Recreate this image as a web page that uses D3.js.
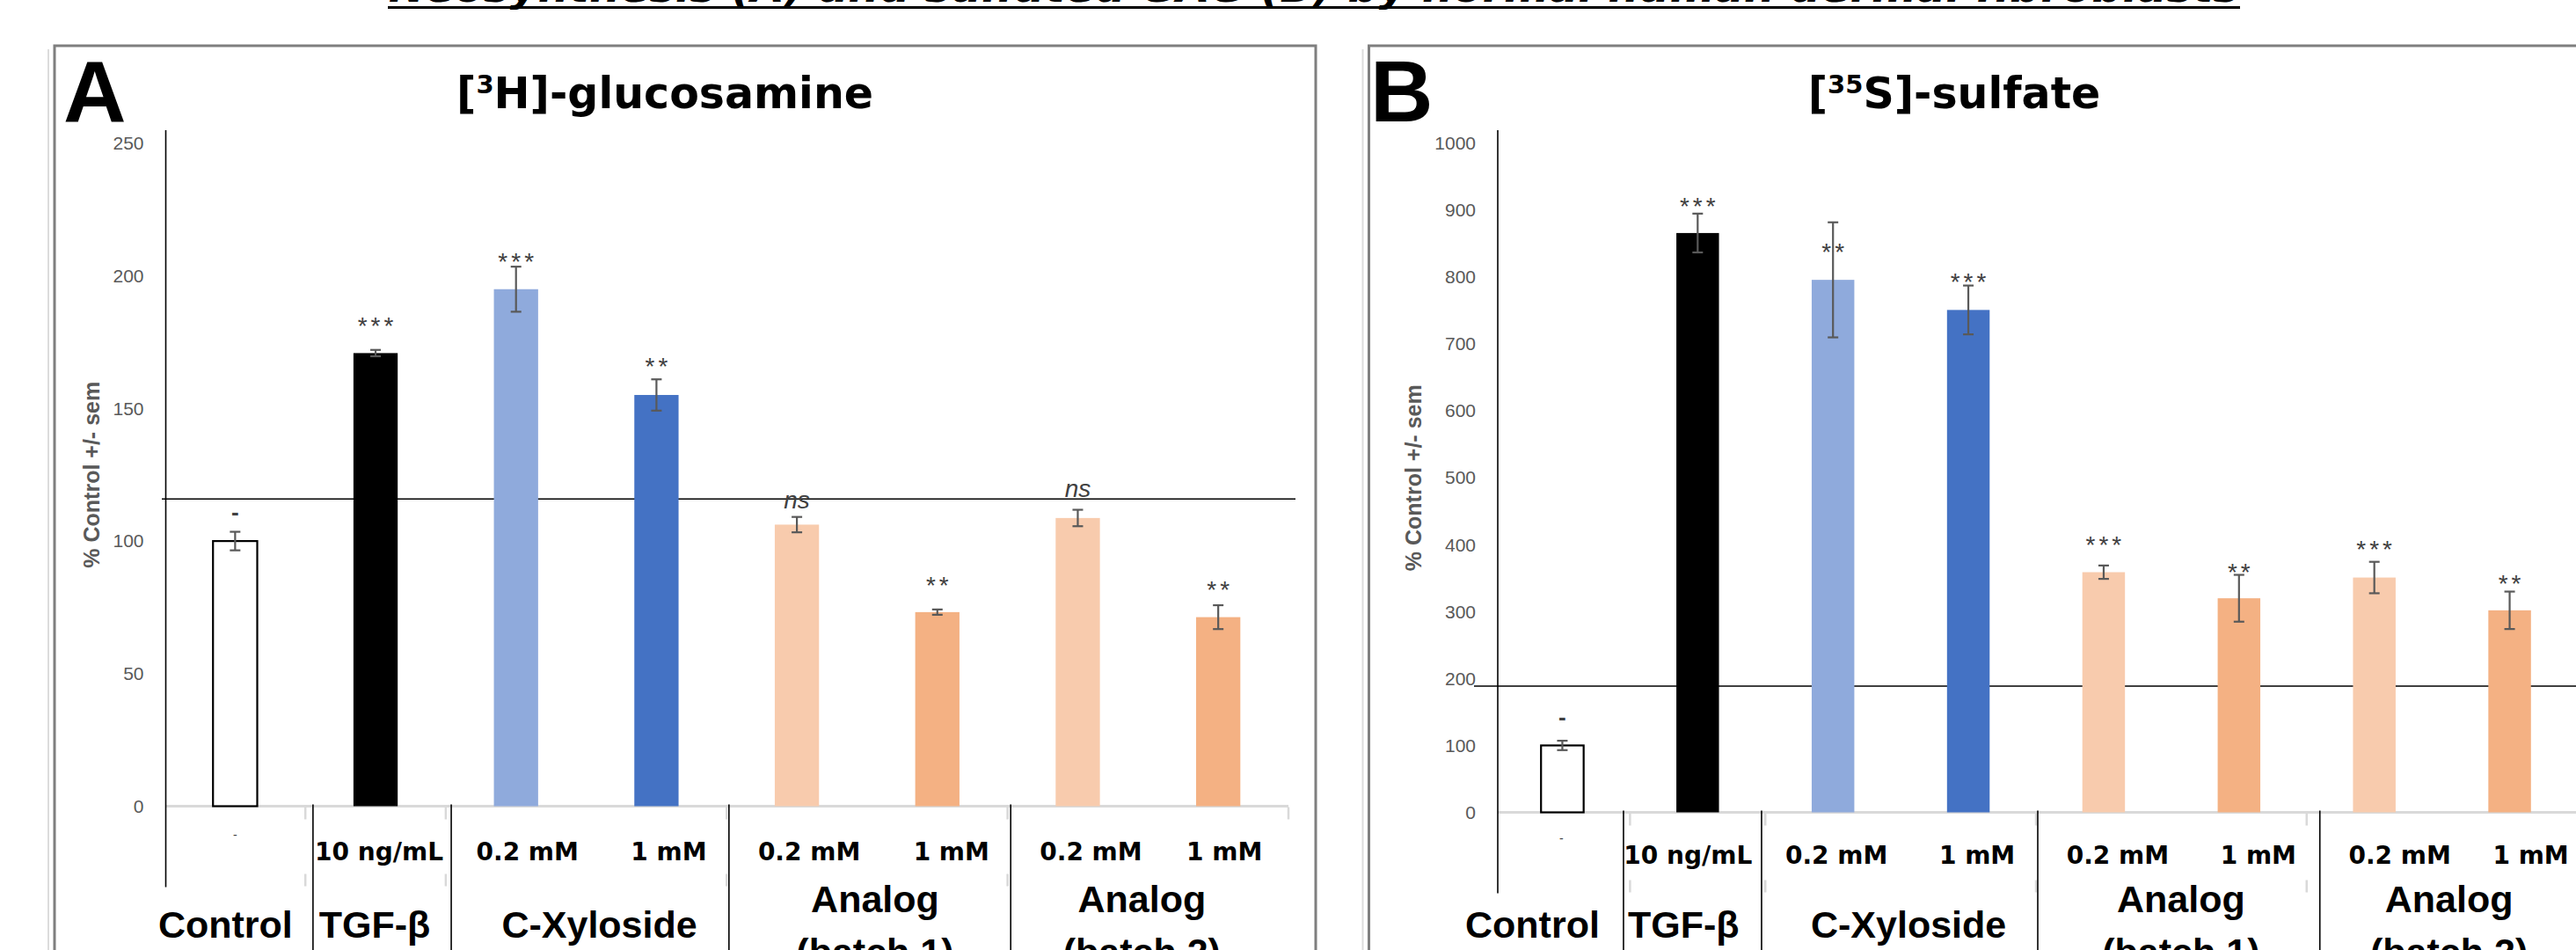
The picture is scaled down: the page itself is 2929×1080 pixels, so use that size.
<!DOCTYPE html>
<html>
<head>
<meta charset="utf-8">
<script src="https://cdn.jsdelivr.net/npm/d3@7"></script>
<style>
  html, body { margin: 0; padding: 0; background: #fff; }
  svg { display: block; }
</style>
</head>
<body>
<svg id="chart" width="2929" height="1080"></svg>
<script>
const pageTitle = "Neosynthesis (A) and sulfated GAG (B) by normal human dermal fibroblasts";

// categories
const groups = ["Control", "TGF-β", "C-Xyloside", "Analog|(batch 1)", "Analog|(batch 2)"];
const groupSize = [1, 1, 2, 2, 2];
const doses = ["-", "10 ng/mL", "0.2 mM", "1 mM", "0.2 mM", "1 mM", "0.2 mM", "1 mM"];

// panel A: [3H]-glucosamine
const glucosamineMean = [100, 170.9, 195, 155.1, 106.2, 73.2, 108.7, 71.3];
const glucosamineSem = [3.5, 1.2, 8.5, 5.9, 2.9, 1, 3.1, 4.5];
const glucosamineSig = ["-", "***", "***", "**", "ns", "**", "ns", "**"];
const glucosamineSigLevel = [110.4, 183.2, 207.5, 168.2, 114.5, 85.5, 119, 83.8];
const glucosamineTicks = [0, 50, 100, 150, 200, 250];
const glucosamineRef = 115.9;

// panel B: [35S]-sulfate
const sulfateMean = [100, 866, 796, 751, 359, 320, 351, 302];
const sulfateSem = [7, 29, 86, 36.5, 10, 35, 23.5, 28];
const sulfateSig = ["-", "***", "**", "***", "***", "**", "***", "**"];
const sulfateSigLevel = [140, 914.8, 845.8, 802.1, 408.3, 368, 402.2, 350.7];
const sulfateTicks = [0, 100, 200, 300, 400, 500, 600, 700, 800, 900, 1000];
const sulfateRef = 188.7;

const barFill = ["#ffffff", "#000000", "#8faadc", "#4472c4", "#f8cbad", "#f4b183", "#f8cbad", "#f4b183"];

const svg = d3.select("#chart");
const sans = "'Liberation Sans', Arial, sans-serif";
const wide = "'DejaVu Sans', sans-serif";

// page title, mostly cut off above the picture
svg.append("text")
  .attr("x", 1494).attr("y", 2)
  .attr("text-anchor", "middle")
  .attr("font-family", wide).attr("font-weight", 700).attr("font-style", "italic")
  .attr("font-size", 44)
  .attr("textLength", 2104).attr("lengthAdjust", "spacingAndGlyphs")
  .text(pageTitle);
svg.append("line")
  .attr("x1", 441).attr("x2", 2547).attr("y1", 8.5).attr("y2", 8.5)
  .attr("stroke", "#000").attr("stroke-width", 3);

const panels = [
  {
    letter: "A", iso: "3", element: "H", suffix: "-glucosamine",
    mean: glucosamineMean, sem: glucosamineSem, sig: glucosamineSig, sigLevel: glucosamineSigLevel,
    ticks: glucosamineTicks, ref: glucosamineRef, yMax: 250,
    frameX: 62, frameW: 1434, axisX: 188.5, band: [187.5, 1465], yRange: [916.5, 163],
    titleX: 756, letterX: 72, yTitleX: 113, refX: [184, 1473], doseY: 978,
    doseShift: [0, 4, 13, 14, 14, 16, 15, 7],
    groupShift: [-11, -1, 15, 9, -7],
    dividerShift: [8.7, 6.2, 2.6, 3.6]
  },
  {
    letter: "B", iso: "35", element: "S", suffix: "-sulfate",
    mean: sulfateMean, sem: sulfateSem, sig: sulfateSig, sigLevel: sulfateSigLevel,
    ticks: sulfateTicks, ref: sulfateRef, yMax: 1000,
    frameX: 1556.5, frameW: 1500, axisX: 1703, band: [1699.5, 2930.5], yRange: [923.5, 163],
    titleX: 2222, letterX: 1558, yTitleX: 1616, refX: [1676, 2929], doseY: 982,
    doseShift: [-1, -11, 4, 10, 16, 22, 29, 24],
    groupShift: [-34, -16, 9, 11, 8],
    dividerShift: [-7.4, -4.3, 2, 15]
  }
];

panels.forEach(drawPanel);

function drawPanel(p) {
  const keys = d3.range(doses.length);
  const slot = d3.scaleBand().domain(keys).range(p.band);
  const x = d3.scaleBand().domain(keys).range(p.band).paddingInner(0.685).paddingOuter(0.3425);
  const y = d3.scaleLinear().domain([0, p.yMax]).range(p.yRange);
  const y0 = y(0);
  const g = svg.append("g");

  // frame of the panel
  g.append("rect")
    .attr("x", p.frameX).attr("y", 52).attr("width", p.frameW).attr("height", 1100)
    .attr("fill", "none").attr("stroke", "#7f7f7f").attr("stroke-width", 3);
  g.append("line")
    .attr("x1", p.frameX - 7).attr("x2", p.frameX - 7).attr("y1", 56).attr("y2", 1080)
    .attr("stroke", "#dcdcdc").attr("stroke-width", 2);

  g.append("text")
    .attr("x", p.letterX).attr("y", 138)
    .attr("font-family", sans).attr("font-weight", 700).attr("font-size", 99)
    .text(p.letter);

  const title = g.append("text")
    .attr("x", p.titleX).attr("y", 123)
    .attr("text-anchor", "middle")
    .attr("font-family", wide).attr("font-weight", 700).attr("font-size", 49);
  title.append("tspan").text("[");
  title.append("tspan").attr("dy", -17).attr("font-size", 29).text(p.iso);
  title.append("tspan").attr("dy", 17).text(`${p.element}]${p.suffix}`);

  // y axis
  g.append("g")
    .attr("transform", `translate(${p.axisX},0)`)
    .call(d3.axisLeft(y).tickValues(p.ticks).tickFormat(d3.format("d")).tickSize(0).tickPadding(25))
    .call(a => a.select(".domain").remove())
    .attr("font-family", sans).attr("font-size", 21)
    .selectAll("text").attr("fill", "#595959");

  g.append("text")
    .attr("transform", `translate(${p.yTitleX},${(p.yRange[0] + p.yRange[1]) / 2}) rotate(-90)`)
    .attr("text-anchor", "middle")
    .attr("font-family", sans).attr("font-weight", 700).attr("font-size", 25)
    .attr("fill", "#595959")
    .text("% Control +/- sem");

  // category baseline
  g.append("line")
    .attr("x1", p.axisX).attr("x2", p.band[1]).attr("y1", y0).attr("y2", y0)
    .attr("stroke", "#d9d9d9").attr("stroke-width", 3);

  // group boundaries
  const bounds = Array.from(d3.cumsum(groupSize)).slice(0, -1);
  const tickXs = bounds.map(i => slot(i)).concat([p.band[1]]);
  tickXs.forEach((tx, i) => {
    g.append("line")
      .attr("x1", tx).attr("x2", tx).attr("y1", y0 + 1).attr("y2", y0 + 15)
      .attr("stroke", "#d9d9d9").attr("stroke-width", 2.5);
    if (i < bounds.length) {
      g.append("line")
        .attr("x1", tx).attr("x2", tx).attr("y1", y0 + 77).attr("y2", y0 + 91)
        .attr("stroke", "#d9d9d9").attr("stroke-width", 2.5);
    }
  });
  bounds.forEach((b, i) => {
    const dx = slot(b) + p.dividerShift[i];
    g.append("line")
      .attr("x1", dx).attr("x2", dx).attr("y1", y0 - 2).attr("y2", 1080)
      .attr("stroke", "#000").attr("stroke-width", 1.6);
  });

  // y axis line
  g.append("line")
    .attr("x1", p.axisX).attr("x2", p.axisX).attr("y1", p.yRange[1] - 15).attr("y2", y0 + 92)
    .attr("stroke", "#000").attr("stroke-width", 1.6);

  // horizontal reference line
  g.append("line")
    .attr("x1", p.refX[0]).attr("x2", p.refX[1]).attr("y1", y(p.ref)).attr("y2", y(p.ref))
    .attr("stroke", "#000").attr("stroke-width", 1.5);

  // bars
  g.selectAll("rect.bar")
    .data(keys)
    .join("rect")
    .attr("class", "bar")
    .attr("x", i => x(i))
    .attr("y", i => y(p.mean[i]))
    .attr("width", x.bandwidth())
    .attr("height", i => y0 - y(p.mean[i]))
    .attr("fill", i => barFill[i])
    .attr("stroke", i => i === 0 ? "#000" : "none")
    .attr("stroke-width", 2.2);

  // error bars
  const cx = i => x(i) + x.bandwidth() / 2;
  keys.forEach(i => {
    const hi = y(p.mean[i] + p.sem[i]);
    const lo = y(p.mean[i] - p.sem[i]);
    const eb = g.append("g").attr("stroke", "#595959").attr("stroke-width", 2.2);
    eb.append("line").attr("x1", cx(i)).attr("x2", cx(i)).attr("y1", hi).attr("y2", lo);
    eb.append("line").attr("x1", cx(i) - 6).attr("x2", cx(i) + 6).attr("y1", hi).attr("y2", hi);
    eb.append("line").attr("x1", cx(i) - 6).attr("x2", cx(i) + 6).attr("y1", lo).attr("y2", lo);
  });

  // significance marks
  keys.forEach(i => {
    const s = p.sig[i];
    const t = g.append("text")
      .attr("x", cx(i))
      .attr("text-anchor", "middle")
      .attr("font-family", sans)
      .attr("fill", "#404040")
      .text(s);
    if (s === "ns") {
      t.attr("font-size", 28).attr("font-style", "italic").attr("y", y(p.sigLevel[i]) + 7);
    } else if (s === "-") {
      t.attr("font-size", 26).attr("font-weight", 700).attr("y", y(p.sigLevel[i]) + 7);
    } else {
      t.attr("font-size", 28).attr("letter-spacing", 4).attr("dx", 2)
        .attr("y", y(p.sigLevel[i]) + 16);
    }
  });

  // dose labels
  keys.forEach(i => {
    const small = doses[i] === "-";
    g.append("text")
      .attr("x", slot(i) + slot.bandwidth() / 2 + p.doseShift[i])
      .attr("y", small ? p.doseY - 24 : p.doseY)
      .attr("text-anchor", "middle")
      .attr("font-family", small ? sans : wide)
      .attr("font-weight", small ? 400 : 700)
      .attr("font-size", small ? 14 : 28)
      .attr("fill", small ? "#404040" : "#000")
      .text(doses[i]);
  });

  // group labels
  let start = 0;
  groups.forEach((name, gi) => {
    const end = start + groupSize[gi];
    const gx = (slot(start) + slot(end - 1) + slot.bandwidth()) / 2 + p.groupShift[gi];
    const lines = name.split("|");
    const t = g.append("text")
      .attr("text-anchor", "middle")
      .attr("font-family", sans).attr("font-weight", 700).attr("font-size", 43);
    lines.forEach((ln, li) => {
      t.append("tspan")
        .attr("x", gx)
        .attr("y", lines.length === 1 ? 1066 : 1037 + li * 60)
        .text(ln);
    });
    start = end;
  });
}
</script>
</body>
</html>
